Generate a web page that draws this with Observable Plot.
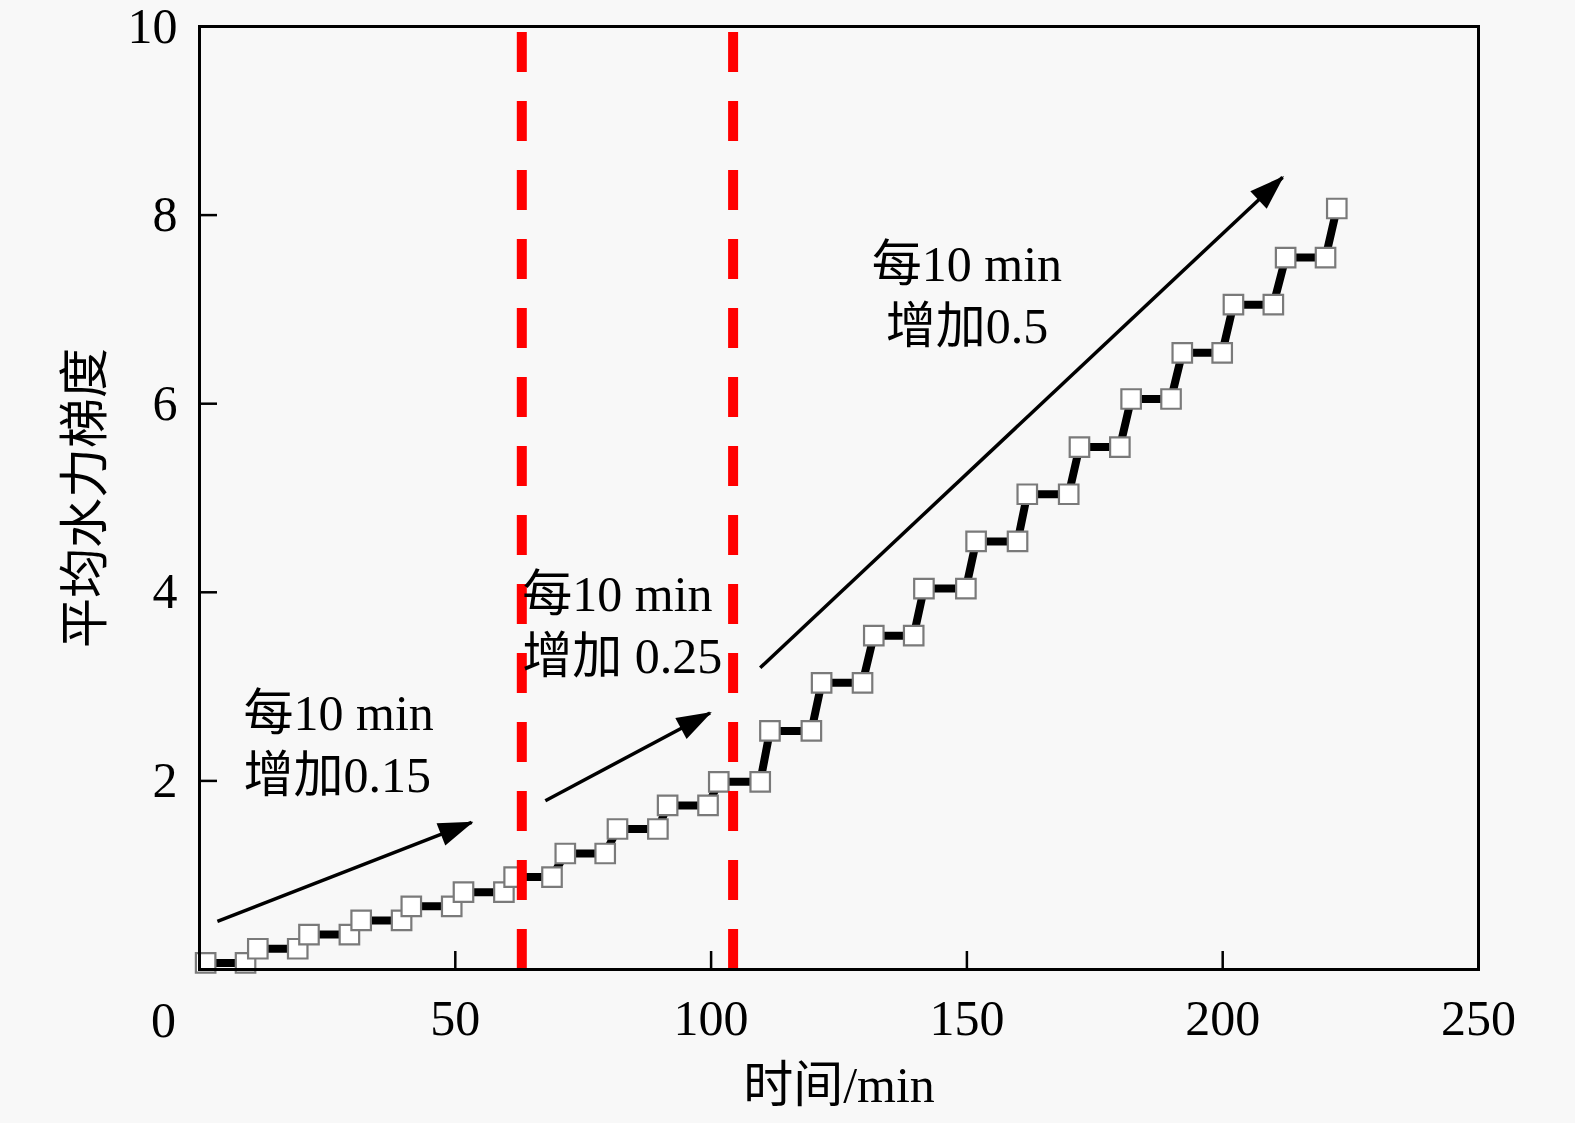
<!DOCTYPE html>
<html>
<head>
<meta charset="utf-8">
<script src="https://cdn.jsdelivr.net/npm/d3@7"></script>
<script src="https://cdn.jsdelivr.net/npm/@observablehq/plot@0.6"></script>
<style>
  html, body { margin: 0; padding: 0; background: #f8f8f8; }
  #chart svg { display: block; }
</style>
</head>
<body>
<div id="chart"></div>
<script>
// ---- data ----
const times = [1.2, 9.0, 11.4, 19.2, 21.4, 29.3, 31.6, 39.5, 41.4, 49.3, 51.6, 59.5, 61.5, 68.9,
  71.5, 79.3, 81.7, 89.6, 91.5, 99.4, 101.5, 109.6,
  111.5, 119.6, 121.6, 129.6, 131.8, 139.6, 141.6, 149.8, 151.8, 159.9, 161.8, 169.9, 172.0, 179.9,
  182.1, 189.9, 192.1, 199.9, 202.1, 209.9, 212.3, 220.1, 222.3];
const gradient = [0.07, 0.07, 0.22, 0.22, 0.37, 0.37, 0.52, 0.52, 0.67, 0.67, 0.82, 0.82, 0.98, 0.98,
  1.23, 1.23, 1.49, 1.49, 1.74, 1.74, 1.99, 1.99,
  2.53, 2.53, 3.04, 3.04, 3.54, 3.54, 4.04, 4.04, 4.54, 4.54, 5.04, 5.04, 5.54, 5.54,
  6.05, 6.05, 6.54, 6.54, 7.05, 7.05, 7.55, 7.55, 8.07];
const phaseBounds = [63.0, 104.3];
const xTicks = [50, 100, 150, 200, 250];
const yTicks = [2, 4, 6, 8, 10];
const arrowX1 = [3.5, 67.6, 109.6];
const arrowY1 = [0.51, 1.79, 3.20];
const arrowX2 = [53.2, 99.8, 211.7];
const arrowY2 = [1.56, 2.72, 8.40];
const noteText = ["每10 min\n增加0.15", "每10 min\n增加 0.25", "每10 min\n增加0.5"];
const noteX = [8.6, 63.1, 150.0];
const noteY = [2.42, 3.68, 7.18];
const noteAnchor = ["start", "start", "middle"];
const xLabel = "时间/min";
const yLabel = "平均水力梯度";

const points = times.map((t, i) => ({t, g: gradient[i]}));
const arrows = arrowX1.map((x, i) => ({x1: x, y1: arrowY1[i], x2: arrowX2[i], y2: arrowY2[i]}));
const notes = noteText.map((s, i) => ({s, x: noteX[i], y: noteY[i], a: noteAnchor[i]}));

const W = 1575, H = 1123;
const mL = 199, mR = 97, mT = 26, mB = 154;
const plotW = W - mL - mR, plotH = H - mT - mB;
const FONT = '"Liberation Serif", "Times New Roman", "Noto Sans CJK SC", serif';

function filledArrow(color) {
  const ns = "http://www.w3.org/2000/svg";
  const m = document.createElementNS(ns, "marker");
  m.setAttribute("viewBox", "-34 -13 36 26");
  m.setAttribute("markerWidth", 36);
  m.setAttribute("markerHeight", 26);
  m.setAttribute("markerUnits", "userSpaceOnUse");
  m.setAttribute("refX", 0);
  m.setAttribute("refY", 0);
  m.setAttribute("orient", "auto");
  const p = document.createElementNS(ns, "path");
  p.setAttribute("d", "M-33,-12L2,0L-33,12Z");
  p.setAttribute("fill", color);
  p.setAttribute("stroke", "none");
  m.appendChild(p);
  return m;
}

const noteStyle = {x: "x", y: "y", text: "s", fontSize: 50, lineHeight: 1.24, lineAnchor: "middle", fill: "black"};

const chart = Plot.plot({
  width: W, height: H,
  marginLeft: mL, marginRight: mR, marginTop: mT, marginBottom: mB,
  style: {fontFamily: FONT, background: "#f8f8f8", color: "black"},
  x: {domain: [0, 250]},
  y: {domain: [0, 10]},
  marks: [
    Plot.axisX({ticks: xTicks, tickSize: 0, tickPadding: 30, fontSize: 50, label: null, tickFormat: d => String(d)}),
    Plot.axisY({ticks: yTicks, tickSize: 0, tickPadding: 22, fontSize: 50, label: null, tickFormat: d => String(d)}),
    Plot.text([0], {x: d => d, y: d => d, text: d => String(d), dx: -36, dy: 51, fontSize: 50, lineAnchor: "middle"}),
    Plot.tickX(xTicks.slice(0, -1), {x: d => d, insetTop: plotH - 18, stroke: "black", strokeWidth: 2.5}),
    Plot.tickY(yTicks.slice(0, -1), {y: d => d, insetRight: plotW - 18, stroke: "black", strokeWidth: 2.5}),
    Plot.line(points, {x: "t", y: "g", stroke: "black", strokeWidth: 8, curve: "linear"}),
    Plot.dot(points, {x: "t", y: "g", symbol: "square", r: 11, fill: "white", stroke: "#7a7a7a", strokeWidth: 2.2}),
    Plot.ruleX(phaseBounds, {x: d => d, stroke: "#ff0000", strokeWidth: 10, strokeDasharray: "40,29", strokeDashoffset: 63}),
    Plot.link(arrows, {x1: "x1", y1: "y1", x2: "x2", y2: "y2", stroke: "black", strokeWidth: 3.5, markerEnd: filledArrow}),
    Plot.text(notes.filter(d => d.a === "start"), {...noteStyle, textAnchor: "start"}),
    Plot.text(notes.filter(d => d.a === "middle"), {...noteStyle, textAnchor: "middle"}),
    Plot.text([xLabel], {frameAnchor: "bottom", dy: 116, fontSize: 50, lineAnchor: "middle", textAnchor: "middle"}),
    Plot.text([yLabel], {frameAnchor: "left", dx: -114, rotate: -90, fontSize: 50, lineAnchor: "middle", textAnchor: "middle"}),
    Plot.frame({stroke: "black", strokeWidth: 3})
  ]
});
document.getElementById("chart").appendChild(chart);
</script>
</body>
</html>
